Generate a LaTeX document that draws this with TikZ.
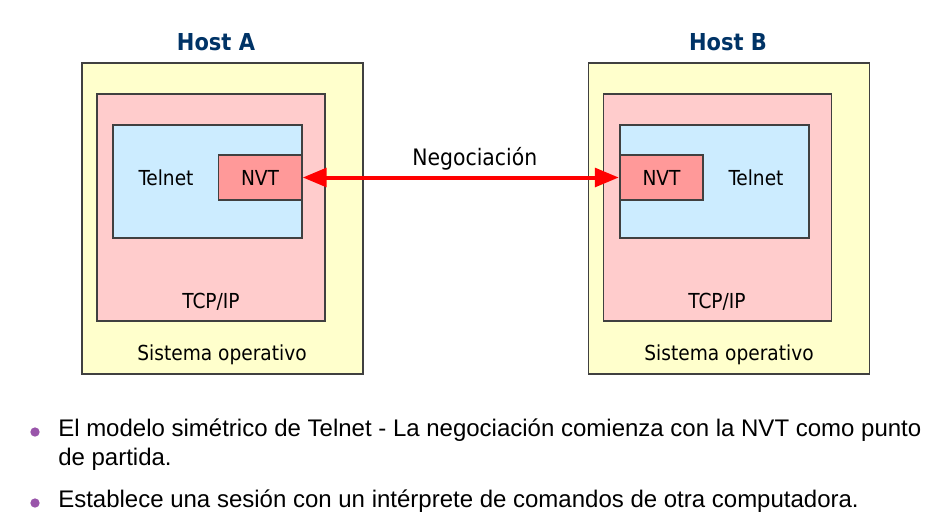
\documentclass[tikz,border=0pt]{standalone}
\usepackage{fontspec}
\setmainfont{Liberation Sans}
\newfontfamily\boxfont{DejaVu Sans Condensed}
\usepackage{xcolor}
\usepackage{tikz}
\usetikzlibrary{arrows.meta,positioning}
\definecolor{osyellow}{RGB}{255,255,204}
\definecolor{tcppink}{RGB}{255,204,204}
\definecolor{appblue}{RGB}{204,236,255}
\definecolor{nvtred}{RGB}{255,153,153}
\definecolor{titleblue}{RGB}{0,51,102}
\definecolor{bulletpurple}{RGB}{153,85,170}

\begin{document}
\begin{tikzpicture}[
    x=0.75pt, y=-0.75pt,
    layer/.style={rectangle, draw=black!75, line width=0.8pt, inner sep=0pt},
    osbox/.style={layer, fill=osyellow, minimum width=210.75pt, minimum height=233.25pt},
    tcpbox/.style={layer, fill=tcppink, minimum width=171pt, minimum height=170.25pt},
    appbox/.style={layer, fill=appblue, minimum width=141.75pt, minimum height=84.75pt},
    nvtbox/.style={layer, fill=nvtred, minimum width=62.25pt, minimum height=33.75pt, font=\boxfont\fontsize{15.5}{18}\selectfont},
    lbl/.style={font=\boxfont\fontsize{15.5}{18}\selectfont, inner sep=0pt},
    hosttitle/.style={font=\boxfont\bfseries\fontsize{17.5}{20}\selectfont, text=titleblue, inner sep=0pt},
    arrow/.style={{Triangle[length=18pt,width=14pt]}-{Triangle[length=18pt,width=14pt]}, red, line width=3pt, shorten <=0.5pt, shorten >=0.5pt},
    dot/.style={circle, fill=bulletpurple, inner sep=0pt, minimum size=7pt},
    bullettext/.style={font=\fontsize{18}{21.75}\selectfont, inner sep=0pt, anchor=base west, align=left}
]
    \useasboundingbox (0,0) rectangle (938,519);

    % Host A
    \node[hosttitle] (titleA) at (216,42) {Host A};
    \node[osbox] (osA) at (222.5,218.5) {};
    \node[tcpbox] (tcpA) at (211,207.5) {};
    \node[appbox] (appA) at (207.5,181.5) {};
    \node[nvtbox] (nvtA) at (260,177.5) {NVT};
    \node[lbl] (telnetA) at (166,178) {Telnet};
    \node[lbl] (tcpipA) at (211,302) {TCP/IP};
    \node[lbl] (sisA) at (222,355) {Sistema operativo};

    % Host B
    \node[hosttitle] (titleB) at (728,42) {Host B};
    \node[osbox] (osB) at (729,218.5) {};
    \node[tcpbox] (tcpB) at (717.5,207.5) {};
    \node[appbox] (appB) at (714.5,181.5) {};
    \node[nvtbox] (nvtB) at (661.5,177.5) {NVT};
    \node[lbl] (telnetB) at (756,178) {Telnet};
    \node[lbl] (tcpipB) at (717,302) {TCP/IP};
    \node[lbl] (sisB) at (729,355) {Sistema operativo};

    % negociacion
    \draw[arrow] (nvtA) -- node[above=4pt, xshift=10.5pt, text=black, font=\boxfont\fontsize{17}{20}\selectfont, inner sep=0pt] (nego) {Negociación} (nvtB);

    % bullets
    \node[dot] (dot1) at (35,432) {};
    \node[bullettext] (line1) at (58,465) {El modelo simétrico de Telnet - La negociación comienza con la NVT como punto\\de partida.};
    \node[dot] (dot2) at (35,503) {};
    \node[bullettext] (line2) at (58,507) {Establece una sesión con un intérprete de comandos de otra computadora.};
\end{tikzpicture}
\end{document}
